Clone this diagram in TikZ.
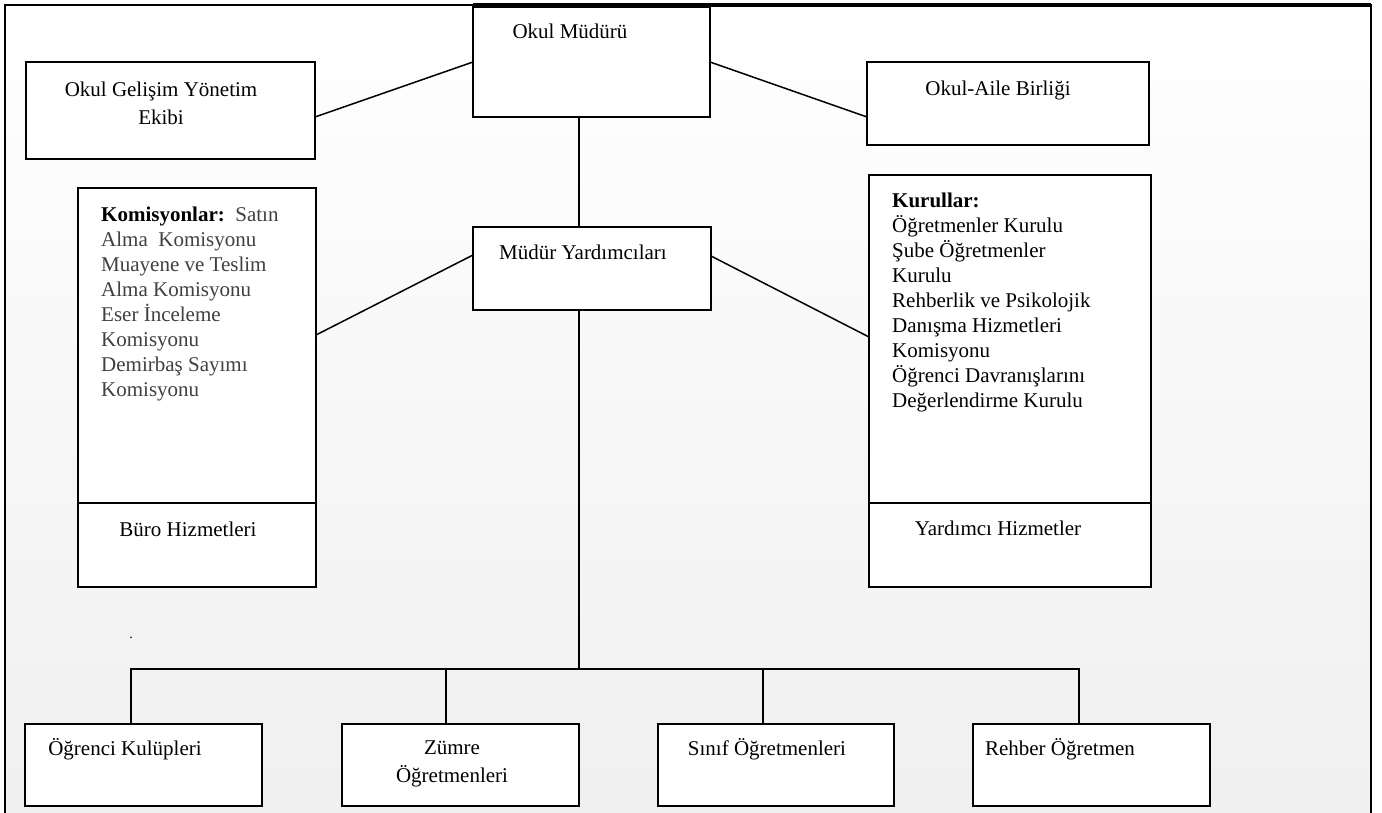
\documentclass[tikz,border=0pt]{standalone}
\usepackage{fontspec}
\setmainfont{Liberation Serif}
\usetikzlibrary{calc}
\definecolor{bodygrey}{HTML}{404040}
\tikzset{
  box/.style={draw, fill=white, line width=1.8pt, inner sep=0pt, outer sep=0pt, anchor=north west},
  conn/.style={line width=1.5pt},
  lbl/.style={inner sep=0pt, anchor=base, font=\fontsize{21}{25}\selectfont},
  lst/.style={inner sep=0pt, anchor=north west, align=left, font=\fontsize{21}{25}\selectfont}
}
\begin{document}
\begin{tikzpicture}[x=1pt,y=-1pt]
\useasboundingbox (0,0) rectangle (1382,813);
\fill[white] (0,0) rectangle (1382,813);
\shade[top color=white, bottom color=black!6] (5,5) rectangle (1371,813);
\draw[line width=2pt] (5,813) -- (5,5) -- (1371,5) -- (1371,813);
\draw[line width=4pt] (473,5.5) -- (1371,5.5);

% boxes
\node[box, minimum width=237pt, minimum height=110pt] (mudur) at (473,7) {};
\node[box, minimum width=289pt, minimum height=97pt] (ogy) at (26,62) {};
\node[box, minimum width=282pt, minimum height=83pt] (oab) at (867,62) {};
\node[box, minimum width=238pt, minimum height=83pt] (my) at (473,227) {};
\node[box, minimum width=238pt, minimum height=315pt] (kom) at (78,188) {};
\node[box, minimum width=238pt, minimum height=84pt] (buro) at (78,503) {};
\node[box, minimum width=282pt, minimum height=328pt] (kur) at (869,175) {};
\node[box, minimum width=282pt, minimum height=84pt] (yard) at (869,503) {};
\node[box, minimum width=237pt, minimum height=82pt] (b1) at (25,724) {};
\node[box, minimum width=237pt, minimum height=82pt] (b2) at (342,724) {};
\node[box, minimum width=236pt, minimum height=82pt] (b3) at (658,724) {};
\node[box, minimum width=237pt, minimum height=82pt] (b4) at (973,724) {};

% texts
\node[lbl] (mudurT) at (570,39) {Okul Müdürü};
\node[lbl, align=center, anchor=north, font=\fontsize{21}{28}\selectfont] (ogyT) at (161,82) {Okul Gelişim Yönetim\\Ekibi};
\node[lbl] (oabT) at (998,96) {Okul-Aile Birliği};
\node[lbl] (myT) at (583,259) {Müdür Yardımcıları};
\node[lst, text=bodygrey] (komT) at (101,207) {\textcolor{black}{\textbf{Komisyonlar:}}\ \ Satın\\Alma\ \ Komisyonu\\Muayene ve Teslim\\Alma Komisyonu\\Eser İnceleme\\Komisyonu\\Demirbaş Sayımı\\Komisyonu};
\node[lst] (kurT) at (892,193) {\textbf{Kurullar:}\\Öğretmenler Kurulu\\Şube Öğretmenler\\Kurulu\\Rehberlik ve Psikolojik\\Danışma\ Hizmetleri\\Komisyonu\\Öğrenci Davranışlarını\\Değerlendirme Kurulu};
\node[lbl] (buroT) at (188,536) {Büro Hizmetleri};
\node[lbl] (yardT) at (998,535) {Yardımcı Hizmetler};
\node[lbl] (b1T) at (125,755) {Öğrenci Kulüpleri};
\node[lbl, align=center, anchor=north, font=\fontsize{21}{28}\selectfont] (b2T) at (452,741) {Zümre\\Öğretmenleri};
\node[lbl] (b3T) at (767,755) {Sınıf Öğretmenleri};
\node[lbl] (b4T) at (1060,755) {Rehber Öğretmen};
\node[inner sep=0pt, font=\fontsize{14}{14}\selectfont] (dot) at (131,638) {.};

% connectors
\coordinate (trunk) at (579,669);
\draw[conn] ($(ogy.north east)+(0,55)$) -- ($(mudur.north west)+(0,55)$);
\draw[conn] ($(mudur.north east)+(0,55)$) -- ($(oab.north west)+(0,55)$);
\draw[conn] (mudur.south -| trunk) -- (my.north -| trunk);
\draw[conn] ($(kom.north east)+(0,147)$) -- ($(my.north west)+(0,28)$);
\draw[conn] ($(my.north east)+(0,29)$) -- ($(kur.north west)+(0,162)$);
\draw[conn] (my.south -| trunk) -- (trunk);
\draw[conn] ($(b1.north)+(-12.5,0)$) -- ($(b1.north)+(-12.5,-55)$) -- ($(b4.north)+(-12.5,-55)$) -- ($(b4.north)+(-12.5,0)$);
\draw[conn] ($(b2.north)+(-14.5,0)$) -- ($(b2.north)+(-14.5,-55)$);
\draw[conn] ($(b3.north)+(-13,0)$) -- ($(b3.north)+(-13,-55)$);
\end{tikzpicture}
\end{document}
